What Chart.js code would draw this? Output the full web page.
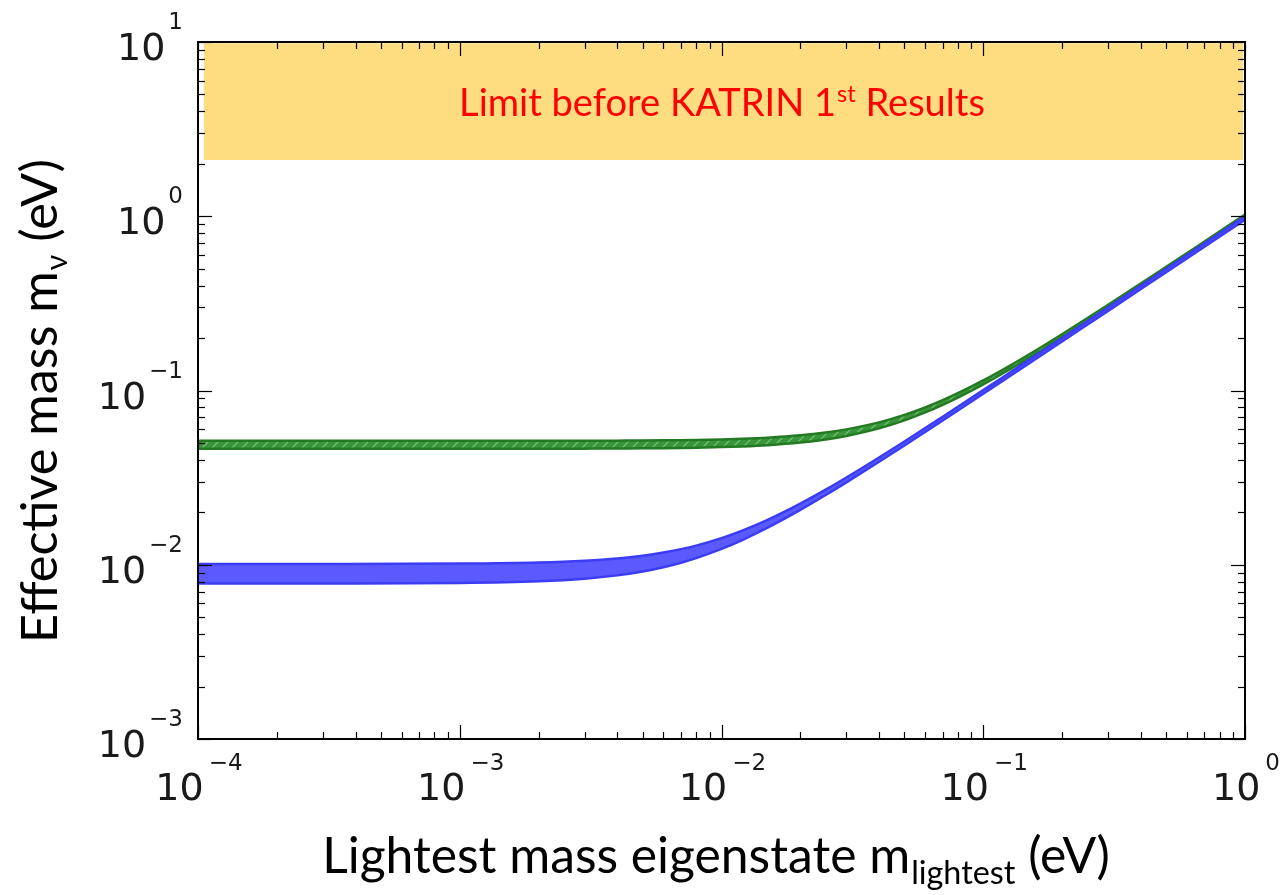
<!DOCTYPE html>
<html><head><meta charset="utf-8">
<script src="https://cdn.jsdelivr.net/npm/chart.js@4/dist/chart.umd.min.js"></script>
<style>html,body{margin:0;padding:0;background:#fff}#wrap{width:1281px;height:895px;position:relative}</style>
</head><body><div id="wrap"><canvas id="c"></canvas></div>
<script>
// lightest neutrino mass (eV)
const mLightest    = [1e-4, 3e-4, 1e-3, 2e-3, 3e-3, 4e-3, 5e-3, 6e-3, 7e-3, 8e-3, 1e-2, 1.2e-2, 1.5e-2, 2e-2, 2.5e-2, 3e-2, 4e-2, 5e-2, 6e-2, 7e-2, 8e-2, 0.1, 0.12, 0.15, 0.2, 0.3, 0.5, 0.7, 1.0];
// normal hierarchy band (blue)
const normalLow    = [0.0078, 0.00781, 0.00786, 0.00803, 0.00831, 0.00869, 0.00915, 0.00968, 0.01027, 0.01092, 0.01233, 0.01386, 0.01631, 0.02063, 0.02512, 0.02969, 0.03899, 0.04838, 0.05783, 0.06730, 0.07680, 0.09582, 0.11487, 0.14346, 0.19116, 0.2865, 0.4775, 0.6685, 0.955];
const normalHigh   = [0.0101, 0.0101, 0.01015, 0.01030, 0.01054, 0.01086, 0.01127, 0.01175, 0.01229, 0.01288, 0.01421, 0.01568, 0.01808, 0.02241, 0.02696, 0.03166, 0.04126, 0.05101, 0.06084, 0.07073, 0.08064, 0.10051, 0.12042, 0.15034, 0.20025, 0.30017, 0.5001, 0.70007, 1.0];
// inverted hierarchy band (green)
const invertedLow  = [0.0463, 0.0463, 0.04631, 0.04634, 0.04639, 0.04647, 0.04656, 0.04667, 0.04681, 0.04696, 0.04733, 0.04777, 0.04858, 0.05028, 0.05238, 0.05485, 0.06067, 0.06741, 0.07484, 0.08276, 0.09105, 0.10839, 0.12639, 0.15412, 0.20139, 0.29762, 0.49218, 0.68756, 0.98109];
const invertedHigh = [0.0514, 0.0514, 0.05141, 0.05144, 0.05149, 0.05156, 0.05165, 0.05176, 0.05189, 0.05204, 0.05240, 0.05284, 0.05363, 0.05530, 0.05738, 0.05982, 0.06563, 0.07241, 0.07992, 0.08798, 0.09644, 0.11422, 0.13276, 0.16140, 0.21038, 0.31029, 0.51258, 0.71585, 1.0213];
// limit before KATRIN (overlay box)
const limitX    = [1.05e-4, 0.985];
const limitLow  = [2.1, 2.1];
const limitHigh = [9.85, 9.85];
const xTickExponents = [-4, -3, -2, -1, 0];
const yTickExponents = [-3, -2, -1, 0, 1];
const limitLabel = ["Limit before KATRIN 1", "st", " Results"];
const xTitleParts = ["Lightest mass eigenstate m", "lightest", " (eV)"];
const yTitleParts = ["Effective mass m", "\u03bd", " (eV)"];

const pts = (xs, ys) => xs.map((x, i) => ({x: x, y: ys[i]}));

function hatch() {
  const c = document.createElement('canvas'); c.width = 10; c.height = 10;
  const g = c.getContext('2d');
  g.fillStyle = '#3a963a'; g.fillRect(0, 0, 10, 10);
  g.strokeStyle = '#7cc47c'; g.lineWidth = 1.2;
  g.beginPath(); g.moveTo(0, 10); g.lineTo(10, 0); g.moveTo(-5, 5); g.lineTo(5, -5); g.moveTo(5, 15); g.lineTo(15, 5); g.stroke();
  return g.createPattern(c, 'repeat');
}

function drawRich(ctx, segs, x, y, align, family) {
  let w = 0;
  segs.forEach(s => { ctx.font = s.size + 'px ' + family; s.w = ctx.measureText(s.text).width; w += s.w + (s.gap || 0); });
  let cx = align === 'center' ? x - w / 2 : (align === 'right' ? x - w : x);
  ctx.textAlign = 'left'; ctx.textBaseline = 'alphabetic';
  segs.forEach(s => { ctx.font = s.size + 'px ' + family; cx += (s.gap || 0); ctx.fillText(s.text, cx, y + (s.dy || 0)); cx += s.w; });
  return w;
}
function fitSize(ctx, parts, scales, target, family) {
  let w = 0;
  parts.forEach((p, i) => { ctx.font = (100 * scales[i]) + 'px ' + family; w += ctx.measureText(p).width; });
  return 100 * target / w;
}

const decor = {
  id: 'decor',
  afterDatasetsDraw(chart) {
    const ctx = chart.ctx;
    ctx.save();
    ctx.fillStyle = '#ff0000';
    const S = fitSize(ctx, limitLabel, [1, 0.62, 1], 525, 'Lato');
    drawRich(ctx, [
      {text: limitLabel[0], size: S},
      {text: limitLabel[1], size: S * 0.62, dy: -S * 0.38, gap: 1},
      {text: limitLabel[2], size: S}
    ], 722, 116, 'center', 'Lato');
    ctx.restore();
  },
  afterDraw(chart) {
    const ctx = chart.ctx, xs = chart.scales.x, ys = chart.scales.y, a = chart.chartArea;
    ctx.save();
    ctx.strokeStyle = '#000'; ctx.lineWidth = 1.2;
    const tick = (x1, y1, x2, y2) => { ctx.beginPath(); ctx.moveTo(x1, y1); ctx.lineTo(x2, y2); ctx.stroke(); };
    for (let e = -4; e <= 0; e++) {
      for (let k = 1; k <= 9; k++) {
        const v = k * Math.pow(10, e); if (v > 1.0000001) continue;
        const px = Math.round(xs.getPixelForValue(v)) + 0.5;
        const L = k === 1 ? 14 : 7;
        tick(px, a.bottom, px, a.bottom - L); tick(px, a.top, px, a.top + L);
      }
    }
    for (let e = -3; e <= 1; e++) {
      for (let k = 1; k <= 9; k++) {
        const v = k * Math.pow(10, e); if (v > 10.000001) continue;
        const py = Math.round(ys.getPixelForValue(v)) + 0.5;
        const L = k === 1 ? 14 : 7;
        tick(a.left, py, a.left + L, py); tick(a.right, py, a.right - L, py);
      }
    }
    ctx.lineWidth = 2; ctx.strokeStyle = '#000';
    ctx.strokeRect(a.left, a.top, a.right - a.left, a.bottom - a.top);
    ctx.fillStyle = '#1a1a1a';
    xTickExponents.forEach(e => {
      const px = xs.getPixelForValue(Math.pow(10, e));
      drawRich(ctx, [
        {text: '10', size: 38},
        {text: (e < 0 ? '\u2212' : '') + Math.abs(e), size: 23, dy: -30, gap: 5}
      ], px + 1, a.bottom + 61, 'center', '"DejaVu Sans"');
    });
    yTickExponents.forEach(e => {
      const py = ys.getPixelForValue(Math.pow(10, e));
      drawRich(ctx, [
        {text: '10', size: 38},
        {text: (e < 0 ? '\u2212' : '') + Math.abs(e), size: 23, dy: -31, gap: 3}
      ], 183, py + 18, 'right', '"DejaVu Sans"');
    });
    ctx.fillStyle = '#000';
    const SX = fitSize(ctx, xTitleParts, [1, 0.65, 1], 787, 'Lato');
    drawRich(ctx, [
      {text: xTitleParts[0], size: SX},
      {text: xTitleParts[1], size: SX * 0.65, dy: SX * 0.22, gap: 1},
      {text: xTitleParts[2], size: SX}
    ], 716, 873, 'center', 'Lato');
    const SY = fitSize(ctx, yTitleParts, [1, 0.6, 1], 483, 'Lato');
    ctx.translate(57, 401); ctx.rotate(-Math.PI / 2);
    drawRich(ctx, [
      {text: yTitleParts[0], size: SY},
      {text: yTitleParts[1], size: SY * 0.6, dy: SY * 0.2, gap: 1},
      {text: yTitleParts[2], size: SY}
    ], 0, 0, 'center', 'Lato');
    ctx.restore();
  }
};

const common = {pointRadius: 0, borderWidth: 0, cubicInterpolationMode: 'monotone'};
new Chart(document.getElementById('c'), {
  type: 'line',
  data: {
    datasets: [
      {...common, data: pts(limitX, limitLow), fill: false, borderColor: 'rgba(0,0,0,0)'},
      {...common, data: pts(limitX, limitHigh), fill: '-1', borderColor: 'rgba(0,0,0,0)', backgroundColor: '#fedc80'},
      {...common, data: pts(mLightest, normalLow), fill: false, borderColor: '#3c3cf5', borderWidth: 2.5},
      {...common, data: pts(mLightest, normalHigh), fill: '-1', borderColor: '#3c3cf5', borderWidth: 2.5, backgroundColor: '#5a5aff'},
      {...common, data: pts(mLightest, invertedLow), fill: false, borderColor: '#237a23', borderWidth: 2.5},
      {...common, data: pts(mLightest, invertedHigh), fill: '-1', borderColor: '#237a23', borderWidth: 2.5, backgroundColor: hatch()}
    ]
  },
  options: {
    responsive: true, maintainAspectRatio: false, animation: false,
    layout: {padding: {left: 198, right: 36, top: 42, bottom: 156}},
    plugins: {legend: {display: false}, tooltip: {enabled: false}},
    scales: {
      x: {type: 'logarithmic', min: 1e-4, max: 1, display: false},
      y: {type: 'logarithmic', min: 1e-3, max: 10, display: false}
    }
  },
  plugins: [decor]
});
</script>
</body></html>
